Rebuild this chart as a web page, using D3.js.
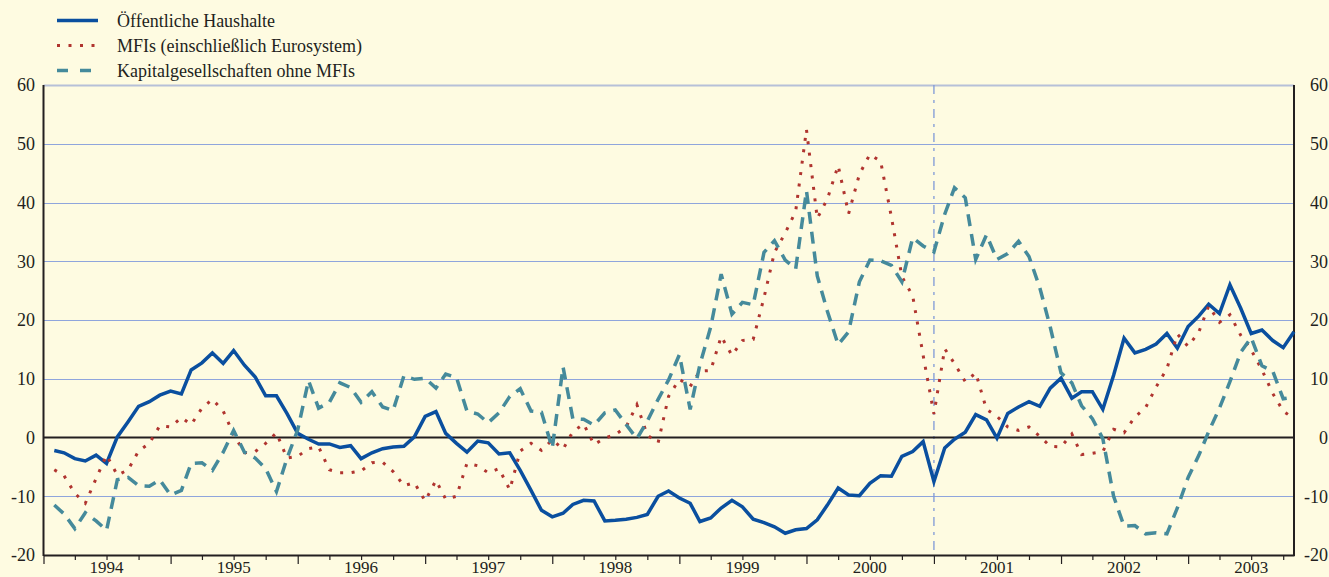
<!DOCTYPE html>
<html>
<head>
<meta charset="utf-8">
<script src="https://cdn.jsdelivr.net/npm/d3@7"></script>
<style>
body { margin: 0; background: #fefbe1; }
svg { display: block; }
text { font-family: "Liberation Serif", "Times New Roman", serif; fill: #231f20; }
</style>
</head>
<body>
<script>
var w = 1329;
var h = 577;

// monthly values, Jan 1994 - Oct 2003 (plotted at end of month)
var months = d3.timeMonth.range(new Date(1994, 0, 1), new Date(2003, 10, 1));

var haushalte = [
	-2.2, -2.6, -3.6, -4.0, -3.0, -4.4, 0.1, 2.7, 5.3, 6.1, 7.2, 7.9,
	7.4, 11.5, 12.7, 14.4, 12.6, 14.8, 12.3, 10.3, 7.1, 7.1, 4.1, 0.7,
	-0.3, -1.1, -1.1, -1.7, -1.4, -3.6, -2.6, -1.9, -1.6, -1.5, 0.1, 3.6,
	4.4, 0.7, -1.0, -2.5, -0.6, -0.9, -2.8, -2.6, -5.6, -9.0, -12.4, -13.5,
	-12.9, -11.4, -10.7, -10.8, -14.2, -14.1, -13.9, -13.6, -13.1, -10.0, -9.1, -10.3,
	-11.2, -14.3, -13.7, -12.0, -10.7, -11.8, -13.9, -14.5, -15.2, -16.3, -15.7, -15.5,
	-14.0, -11.5, -8.6, -9.8, -9.9, -7.8, -6.5, -6.6, -3.2, -2.4, -0.7, -7.5,
	-1.8, -0.3, 0.9, 3.9, 3.0, -0.1, 4.1, 5.2, 6.1, 5.3, 8.4, 10.1,
	6.7, 7.8, 7.8, 4.8, 10.6, 16.9, 14.4, 15.0, 15.9, 17.7, 15.2, 18.9,
	20.7, 22.7, 21.1, 26.0, 22.0, 17.7, 18.3, 16.5, 15.3, 18.0
];

var mfis = [
	-5.5, -6.5, -9.5, -11.2, -7.0, -3.0, -6.4, -5.5, -2.3, -1.0, 2.0, 1.8,
	3.4, 2.2, 5.0, 6.5, 4.5, 0.5, -2.6, -2.4, -1.0, 0.8, -3.5, -3.2,
	-1.9, -1.6, -5.5, -6.0, -6.0, -5.7, -4.3, -4.2, -5.8, -8.2, -7.7, -10.8,
	-7.3, -10.5, -10.0, -4.4, -4.8, -6.0, -5.3, -8.9, -2.3, -1.0, -2.2, -0.4,
	-2.0, 1.0, 2.3, -1.2, -0.1, 0.5, 1.8, 5.6, 0.4, -0.9, 7.0, 9.9,
	8.7, 11.3, 11.4, 17.2, 14.0, 16.5, 16.7, 23.8, 31.5, 34.8, 38.5, 52.4,
	37.3, 40.6, 46.3, 38.1, 44.8, 48.2, 47.0, 37.5, 27.4, 24.1, 14.0, 4.0,
	15.1, 12.6, 9.5, 11.0, 4.8, 3.6, 1.8, 1.2, 1.8, 0.2, -1.5, -1.6,
	0.6, -2.9, -2.7, -2.4, 1.4, 0.8, 3.5, 5.1, 8.6, 11.7, 17.6, 15.5,
	18.0, 22.4, 19.6, 20.9, 17.4, 14.9, 11.5, 7.5, 4.5, 3.2
];

var kapital = [
	-11.5, -13.0, -15.5, -12.8, -14.2, -15.8, -7.2, -6.8, -8.2, -8.3, -7.2, -9.8,
	-9.0, -4.4, -4.3, -5.6, -2.5, 1.2, -2.5, -3.5, -5.3, -9.2, -3.6, 1.3,
	9.7, 5.0, 6.0, 9.3, 8.5, 6.0, 7.8, 5.2, 4.6, 10.5, 9.9, 10.1,
	8.4, 10.8, 10.2, 4.5, 4.0, 2.5, 4.2, 7.0, 8.3, 4.5, 4.3, -1.8,
	12.0, 3.2, 3.1, 2.1, 4.2, 4.7, 2.2, -0.2, 2.8, 6.5, 9.8, 14.1,
	4.8, 12.4, 18.8, 27.8, 21.0, 23.0, 22.6, 31.5, 33.5, 30.2, 28.7, 42.0,
	27.5, 21.5, 15.8, 18.0, 26.5, 30.2, 30.1, 29.3, 26.5, 34.0, 32.6, 31.6,
	38.0, 42.5, 40.8, 30.3, 34.5, 30.3, 31.3, 33.4, 30.8, 25.5, 18.8, 11.0,
	9.3, 5.4, 3.2, -0.2, -10.0, -15.1, -15.0, -16.4, -16.2, -16.4, -12.0, -6.8,
	-3.0, 1.0, 5.0, 9.5, 14.5, 17.0, 12.2, 11.3, 6.6, 6.9
];

var yTicks = [-20, -10, 0, 10, 20, 30, 40, 50, 60];
var yearLabels = [1994, 1995, 1996, 1997, 1998, 1999, 2000, 2001, 2002, 2003];
var seriesNames = ["Öffentliche Haushalte", "MFIs (einschließlich Eurosystem)", "Kapitalgesellschaften ohne MFIs"];

var startDate = new Date(1994, 0, 1);
var endDate = new Date(2003, 10, 1);

var x = d3.scaleTime()
	.domain([startDate, endDate])
	.range([43.5, 1294]);

var y = d3.scaleLinear()
	.domain([-20, 60])
	.range([555, 85]);

var svg = d3.select("body")
	.append("svg")
	.attr("width", w)
	.attr("height", h);

svg.append("rect")
	.attr("width", w)
	.attr("height", h)
	.attr("fill", "#fefbe1");

// horizontal grid lines
svg.selectAll("line.grid")
	.data(yTicks.filter(function(d) { return d != -20 && d != 0; }))
	.enter()
	.append("line")
	.attr("class", "grid")
	.attr("x1", x(startDate))
	.attr("x2", x(endDate))
	.attr("y1", function(d) { return Math.round(y(d)) + 0.5; })
	.attr("y2", function(d) { return Math.round(y(d)) + 0.5; })
	.attr("stroke", function(d) { return d == 60 ? "#b6c0d8" : "#8fa5dc"; })
	.attr("stroke-width", function(d) { return d == 60 ? 2 : 1; });

// euro changeover marker (Jan 2001)
svg.append("line")
	.attr("x1", x(new Date(2001, 0, 1)))
	.attr("x2", x(new Date(2001, 0, 1)))
	.attr("y1", y(60))
	.attr("y2", y(-20))
	.attr("stroke", "#7f9ad8")
	.attr("stroke-width", 1.3)
	.attr("stroke-dasharray", "9,6,3,6");

// zero line
svg.append("line")
	.attr("x1", x(startDate))
	.attr("x2", x(endDate))
	.attr("y1", y(0))
	.attr("y2", y(0))
	.attr("stroke", "#231f20")
	.attr("stroke-width", 2);

// x axis with quarterly ticks
var xAxis = d3.axisBottom(x)
	.tickValues(d3.timeMonth.range(startDate, endDate, 3))
	.tickSize(5)
	.tickSizeOuter(0)
	.tickFormat("");

var gx = svg.append("g")
	.attr("transform", "translate(0," + y(-20) + ")")
	.call(xAxis);

gx.select(".domain").attr("stroke", "#231f20").attr("stroke-width", 2);
gx.selectAll(".tick line")
	.attr("stroke", "#231f20")
	.attr("stroke-width", 1.2)
	.attr("y2", function(d) { return d.getMonth() == 0 ? 9 : 5; });

svg.selectAll("text.year")
	.data(yearLabels)
	.enter()
	.append("text")
	.attr("class", "year")
	.attr("x", function(d) { return x(new Date(d, 6, 1)); })
	.attr("y", 573)
	.attr("text-anchor", "middle")
	.attr("font-size", "17px")
	.text(function(d) { return d; });

// left and right axis lines
[x(startDate), x(endDate)].forEach(function(px) {
	svg.append("line")
		.attr("x1", px)
		.attr("x2", px)
		.attr("y1", y(60))
		.attr("y2", y(-20) + 1)
		.attr("stroke", "#231f20")
		.attr("stroke-width", 2);
});

svg.selectAll("text.yl")
	.data(yTicks)
	.enter()
	.append("text")
	.attr("class", "yl")
	.attr("x", 35)
	.attr("y", function(d) { return y(d); })
	.attr("dy", "0.35em")
	.attr("text-anchor", "end")
	.attr("font-size", "18px")
	.text(function(d) { return d; });

svg.selectAll("text.yr")
	.data(yTicks)
	.enter()
	.append("text")
	.attr("class", "yr")
	.attr("x", 1328)
	.attr("y", function(d) { return y(d); })
	.attr("dy", "0.35em")
	.attr("text-anchor", "end")
	.attr("font-size", "18px")
	.text(function(d) { return d; });

// series lines
var line = d3.line()
	.x(function(d, i) { return x(d3.timeMonth.offset(months[i], 1)); })
	.y(function(d) { return y(d); });

var styles = [
	{ data: haushalte, color: "#0a4f9f", width: 3.5, dash: null, legendDash: null },
	{ data: mfis, color: "#b0342f", width: 3, dash: "3,8.5", legendDash: "3,8.5" },
	{ data: kapital, color: "#458a9b", width: 3.5, dash: "12,8", legendDash: "11,12" }
];

styles.forEach(function(s) {
	svg.append("path")
		.datum(s.data)
		.attr("d", line)
		.attr("fill", "none")
		.attr("stroke", s.color)
		.attr("stroke-width", s.width)
		.attr("stroke-dasharray", s.dash);
});

// legend
var legend = svg.selectAll("g.legend")
	.data(seriesNames)
	.enter()
	.append("g")
	.attr("class", "legend")
	.attr("transform", function(d, i) { return "translate(0," + (20.5 + i * 25) + ")"; });

legend.append("line")
	.attr("x1", 57)
	.attr("x2", 98)
	.attr("stroke", function(d, i) { return styles[i].color; })
	.attr("stroke-width", function(d, i) { return styles[i].width; })
	.attr("stroke-dasharray", function(d, i) { return styles[i].legendDash; });

legend.append("text")
	.attr("x", 117)
	.attr("dy", "0.35em")
	.attr("font-size", "18px")
	.text(function(d) { return d; });
</script>
</body>
</html>
